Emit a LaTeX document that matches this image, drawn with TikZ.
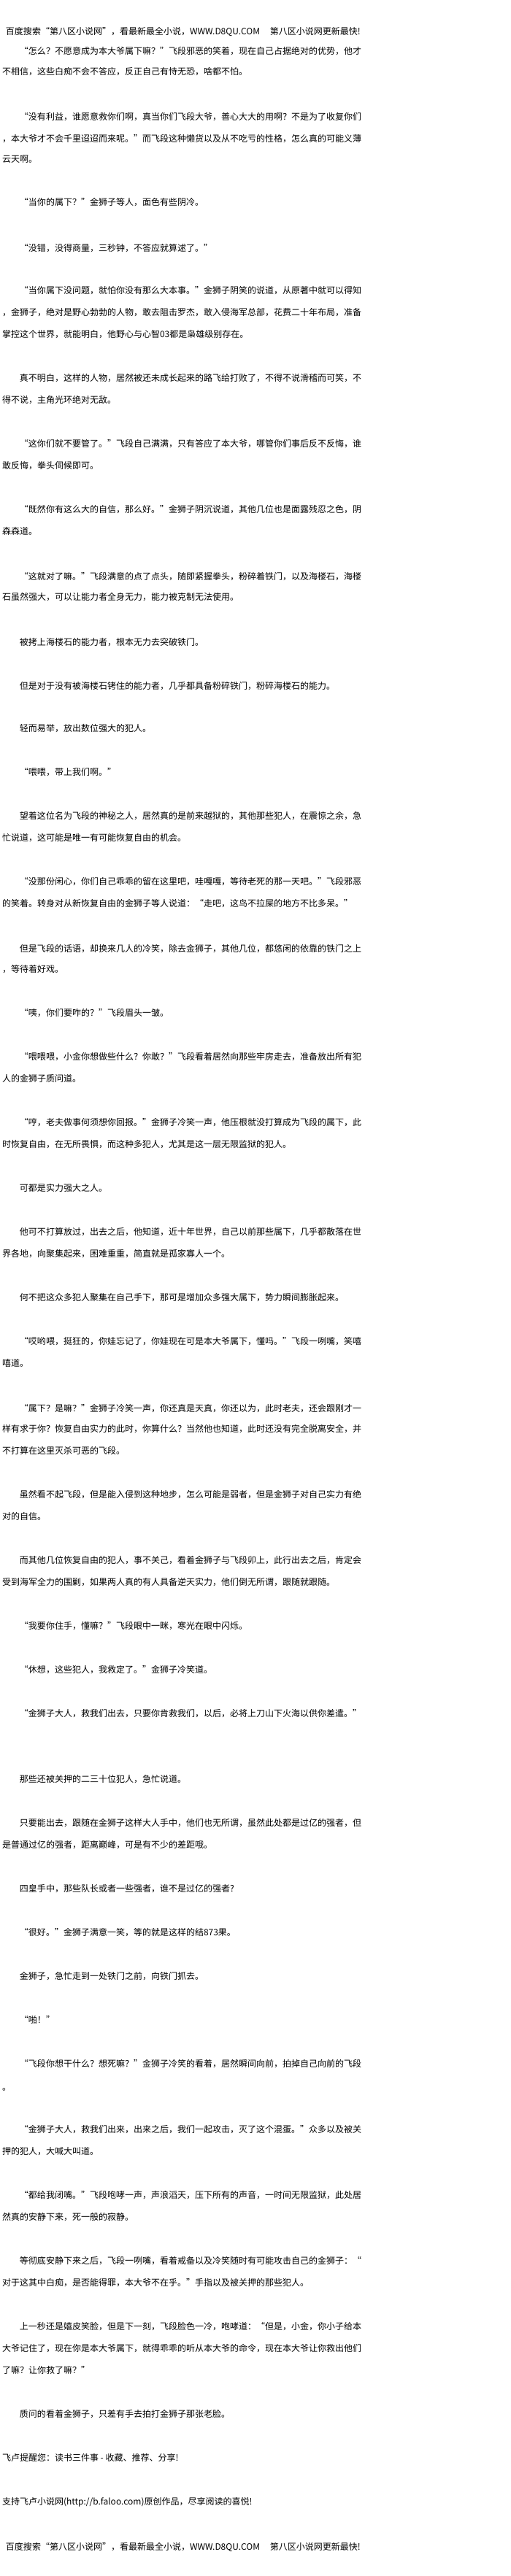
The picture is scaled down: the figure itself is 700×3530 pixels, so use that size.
\documentclass[tikz,border=0pt]{standalone}
\usepackage{fontspec}
\setmainfont{Noto Sans CJK SC}
\begin{document}
\begin{tikzpicture}[x=1pt,y=-1pt,
  txt/.style={anchor=base west,inner sep=0pt,outer sep=0pt,font=\fontsize{12}{12}\selectfont,text=black}]
\newcommand\tline[4]{\node[txt] (#1) at (#2,#3+4.5) {#4};}
\fill[white] (0,0) rectangle (700,3530);
\useasboundingbox (0,0) rectangle (700,3530);
\tline{l1}{8}{43.3}{百度搜索“第八区小说网”，看最新最全小说，WWW.D8QU.COM\hspace*{14pt}第八区小说网更新最快!}
\tline{l2}{27}{70}{“怎么？不愿意成为本大爷属下嘛？”飞段邪恶的笑着，现在自己占据绝对的优势，他才}
\tline{l3}{3}{98.3}{不相信，这些白痴不会不答应，反正自己有恃无恐，啥都不怕。}
\tline{l4}{27}{160}{“没有利益，谁愿意救你们啊，真当你们飞段大爷，善心大大的用啊？不是为了收复你们}
\tline{l5}{3}{190}{，本大爷才不会千里迢迢而来呢。”而飞段这种懒货以及从不吃亏的性格，怎么真的可能义薄}
\tline{l6}{3}{218.3}{云天啊。}
\tline{l7}{27}{276.7}{“当你的属下？”金狮子等人，面色有些阴冷。}
\tline{l8}{27}{340}{“没错，没得商量，三秒钟，不答应就算逑了。”}
\tline{l9}{27}{398.3}{“当你属下没问题，就怕你没有那么大本事。”金狮子阴笑的说道，从原著中就可以得知}
\tline{l10}{3}{428.3}{，金狮子，绝对是野心勃勃的人物，敢去阻击罗杰，敢入侵海军总部，花费二十年布局，准备}
\tline{l11}{3}{458.3}{掌控这个世界，就能明白，他野心与心智03都是枭雄级别存在。}
\tline{l12}{27}{518.3}{真不明白，这样的人物，居然被还未成长起来的路飞给打败了，不得不说滑稽而可笑，不}
\tline{l13}{3}{548.3}{得不说，主角光环绝对无敌。}
\tline{l14}{27}{608.3}{“这你们就不要管了。”飞段自己满满，只有答应了本大爷，哪管你们事后反不反悔，谁}
\tline{l15}{3}{638.3}{敢反悔，拳头伺候即可。}
\tline{l16}{27}{698.3}{“既然你有这么大的自信，那么好。”金狮子阴沉说道，其他几位也是面露残忍之色，阴}
\tline{l17}{3}{728.3}{森森道。}
\tline{l18}{27}{790}{“这就对了嘛。”飞段满意的点了点头，随即紧握拳头，粉碎着铁门，以及海楼石，海楼}
\tline{l19}{3}{818.3}{石虽然强大，可以让能力者全身无力，能力被克制无法使用。}
\tline{l20}{27}{880}{被拷上海楼石的能力者，根本无力去突破铁门。}
\tline{l21}{27}{940}{但是对于没有被海楼石铐住的能力者，几乎都具备粉碎铁门，粉碎海楼石的能力。}
\tline{l22}{27}{998.3}{轻而易举，放出数位强大的犯人。}
\tline{l23}{27}{1058.3}{“喂喂，带上我们啊。”}
\tline{l24}{27}{1118.3}{望着这位名为飞段的神秘之人，居然真的是前来越狱的，其他那些犯人，在震惊之余，急}
\tline{l25}{3}{1148.3}{忙说道，这可能是唯一有可能恢复自由的机会。}
\tline{l26}{27}{1208.3}{“没那份闲心，你们自己乖乖的留在这里吧，哇嘎嘎，等待老死的那一天吧。”飞段邪恶}
\tline{l27}{3}{1238.3}{的笑着。转身对从新恢复自由的金狮子等人说道：“走吧，这鸟不拉屎的地方不比多呆。”}
\tline{l28}{27}{1300}{但是飞段的话语，却换来几人的冷笑，除去金狮子，其他几位，都悠闲的依靠的铁门之上}
\tline{l29}{3}{1328.3}{，等待着好戏。}
\tline{l30}{27}{1388.3}{“咦，你们要咋的？”飞段眉头一皱。}
\tline{l31}{27}{1448.3}{“喂喂喂，小金你想做些什么？你敢？”飞段看着居然向那些牢房走去，准备放出所有犯}
\tline{l32}{3}{1478.3}{人的金狮子质问道。}
\tline{l33}{27}{1538.3}{“哼，老夫做事何须想你回报。”金狮子冷笑一声，他压根就没打算成为飞段的属下，此}
\tline{l34}{3}{1568.3}{时恢复自由，在无所畏惧，而这种多犯人，尤其是这一层无限监狱的犯人。}
\tline{l35}{27}{1628.3}{可都是实力强大之人。}
\tline{l36}{27}{1688.3}{他可不打算放过，出去之后，他知道，近十年世界，自己以前那些属下，几乎都散落在世}
\tline{l37}{3}{1718.3}{界各地，向聚集起来，困难重重，简直就是孤家寡人一个。}
\tline{l38}{27}{1778.3}{何不把这众多犯人聚集在自己手下，那可是增加众多强大属下，势力瞬间膨胀起来。}
\tline{l39}{27}{1838.3}{“哎哟喂，挺狂的，你娃忘记了，你娃现在可是本大爷属下，懂吗。”飞段一咧嘴，笑嘻}
\tline{l40}{3}{1868.3}{嘻道。}
\tline{l41}{27}{1930}{“属下？是嘛？”金狮子冷笑一声，你还真是天真，你还以为，此时老夫，还会跟刚才一}
\tline{l42}{3}{1958.3}{样有求于你？恢复自由实力的此时，你算什么？当然他也知道，此时还没有完全脱离安全，并}
\tline{l43}{3}{1988.3}{不打算在这里灭杀可恶的飞段。}
\tline{l44}{27}{2048.3}{虽然看不起飞段，但是能入侵到这种地步，怎么可能是弱者，但是金狮子对自己实力有绝}
\tline{l45}{3}{2078.3}{对的自信。}
\tline{l46}{27}{2138.3}{而其他几位恢复自由的犯人，事不关己，看着金狮子与飞段卯上，此行出去之后，肯定会}
\tline{l47}{3}{2168.3}{受到海军全力的围剿，如果两人真的有人具备逆天实力，他们倒无所谓，跟随就跟随。}
\tline{l48}{27}{2228.3}{“我要你住手，懂嘛？”飞段眼中一眯，寒光在眼中闪烁。}
\tline{l49}{27}{2288.3}{“休想，这些犯人，我救定了。”金狮子冷笑道。}
\tline{l50}{27}{2348.3}{“金狮子大人，救我们出去，只要你肯救我们，以后，必将上刀山下火海以供你差遣。”}
\tline{l51}{27}{2438.3}{那些还被关押的二三十位犯人，急忙说道。}
\tline{l52}{27}{2498.3}{只要能出去，跟随在金狮子这样大人手中，他们也无所谓，虽然此处都是过亿的强者，但}
\tline{l53}{3}{2528.3}{是普通过亿的强者，距离巅峰，可是有不少的差距哦。}
\tline{l54}{27}{2588.3}{四皇手中，那些队长或者一些强者，谁不是过亿的强者?}
\tline{l55}{27}{2648.3}{“很好。”金狮子满意一笑，等的就是这样的结873果。}
\tline{l56}{27}{2708.3}{金狮子，急忙走到一处铁门之前，向铁门抓去。}
\tline{l57}{27}{2768.3}{“啪！”}
\tline{l58}{27}{2828.3}{“飞段你想干什么？想死嘛？”金狮子冷笑的看着，居然瞬间向前，拍掉自己向前的飞段}
\tline{l59}{3}{2860}{。}
\tline{l60}{27}{2918.3}{“金狮子大人，救我们出来，出来之后，我们一起攻击，灭了这个混蛋。”众多以及被关}
\tline{l61}{3}{2948.3}{押的犯人，大喊大叫道。}
\tline{l62}{27}{3008.3}{“都给我闭嘴。”飞段咆哮一声，声浪滔天，压下所有的声音，一时间无限监狱，此处居}
\tline{l63}{3}{3038.3}{然真的安静下来，死一般的寂静。}
\tline{l64}{27}{3098.3}{等彻底安静下来之后，飞段一咧嘴，看着戒备以及冷笑随时有可能攻击自己的金狮子：“}
\tline{l65}{3}{3128.3}{对于这其中白痴，是否能得罪，本大爷不在乎。”手指以及被关押的那些犯人。}
\tline{l66}{27}{3188.3}{上一秒还是嬉皮笑脸，但是下一刻，飞段脸色一冷，咆哮道：“但是，小金，你小子给本}
\tline{l67}{3}{3218.3}{大爷记住了，现在你是本大爷属下，就得乖乖的听从本大爷的命令，现在本大爷让你救出他们}
\tline{l68}{3}{3248.3}{了嘛？让你救了嘛？”}
\tline{l69}{27}{3308.3}{质问的看着金狮子，只差有手去拍打金狮子那张老脸。}
\tline{l70}{3}{3368.3}{飞卢提醒您：读书三件事 - 收藏、推荐、分享!}
\tline{l71}{3}{3428.3}{支持飞卢小说网(http://b.faloo.com)原创作品，尽享阅读的喜悦!}
\tline{l72}{8}{3490}{百度搜索“第八区小说网”，看最新最全小说，WWW.D8QU.COM\hspace*{14pt}第八区小说网更新最快!}
\end{tikzpicture}
\end{document}
